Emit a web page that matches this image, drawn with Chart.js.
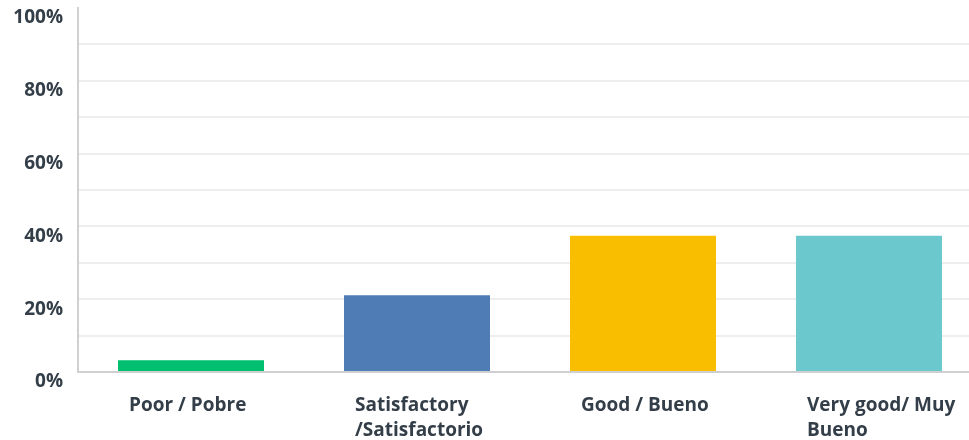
<!DOCTYPE html>
<html>
<head>
<meta charset="utf-8">
<script src="https://cdn.jsdelivr.net/npm/chart.js@4/dist/chart.umd.min.js"></script>
<style>
  html, body { margin: 0; padding: 0; background: #fff; width: 969px; height: 440px; overflow: hidden; }
  #wrap { position: relative; width: 982px; height: 440px; }
</style>
</head>
<body>
<div id="wrap"><canvas id="chart"></canvas></div>
<script>
// Answer options (multi-line where the label wraps)
const categories = [
  ["Poor / Pobre"],
  ["Satisfactory", "/Satisfactorio"],
  ["Good / Bueno"],
  ["Very good/ Muy", "Bueno"]
];
// Share of responses, in percent
const percentages = [3.2, 21.1, 37.4, 37.4];
const barColors = ["#00BF6F", "#507CB6", "#F9BE00", "#6BC8CD"];
// Labelled y ticks (gridlines are drawn every 10%)
const yLabelledTicks = [0, 20, 40, 60, 80, 100];

const textColor = "#333E48";
const fontFamily = "'Open Sans', 'Liberation Sans', sans-serif";

new Chart(document.getElementById("chart"), {
  type: "bar",
  data: {
    labels: categories,
    datasets: [{
      data: percentages,
      backgroundColor: barColors,
      borderWidth: 0,
      barPercentage: 0.646,
      categoryPercentage: 1.0
    }]
  },
  options: {
    responsive: true,
    maintainAspectRatio: false,
    animation: false,
    layout: { padding: { top: 8, left: 0, right: 0, bottom: 0 } },
    plugins: {
      legend: { display: false },
      tooltip: { enabled: false }
    },
    scales: {
      x: {
        offset: true,
        grid: { display: false, drawTicks: false },
        border: { display: true, color: "#d0d0d0", width: 2 },
        ticks: {
          color: textColor,
          font: { family: fontFamily, size: 19, weight: "700", lineHeight: 1.32 },
          align: "start",
          labelOffset: -62,
          padding: 21,
          maxRotation: 0,
          autoSkip: false
        },
        afterFit: (scale) => {
          scale.height = 68;
          scale.paddingLeft = 0;
          scale.paddingRight = 0;
        }
      },
      y: {
        min: 0,
        max: 100,
        grid: {
          drawTicks: false,
          lineWidth: 2,
          color: (ctx) => (ctx.tick && (ctx.tick.value === 100 || ctx.tick.value === 0)) ? "rgba(0,0,0,0)" : "#eeeeee"
        },
        border: { display: true, color: "#d0d0d0", width: 2 },
        ticks: {
          stepSize: 10,
          color: textColor,
          font: { family: fontFamily, size: 19, weight: "700" },
          padding: 15,
          labelOffset: 10,
          callback: (value) => yLabelledTicks.includes(value) ? value + "%" : ""
        },
        afterFit: (scale) => {
          scale.width = 78;
          scale.paddingTop = 0;
          scale.paddingBottom = 0;
        }
      }
    }
  }
});
</script>
</body>
</html>
